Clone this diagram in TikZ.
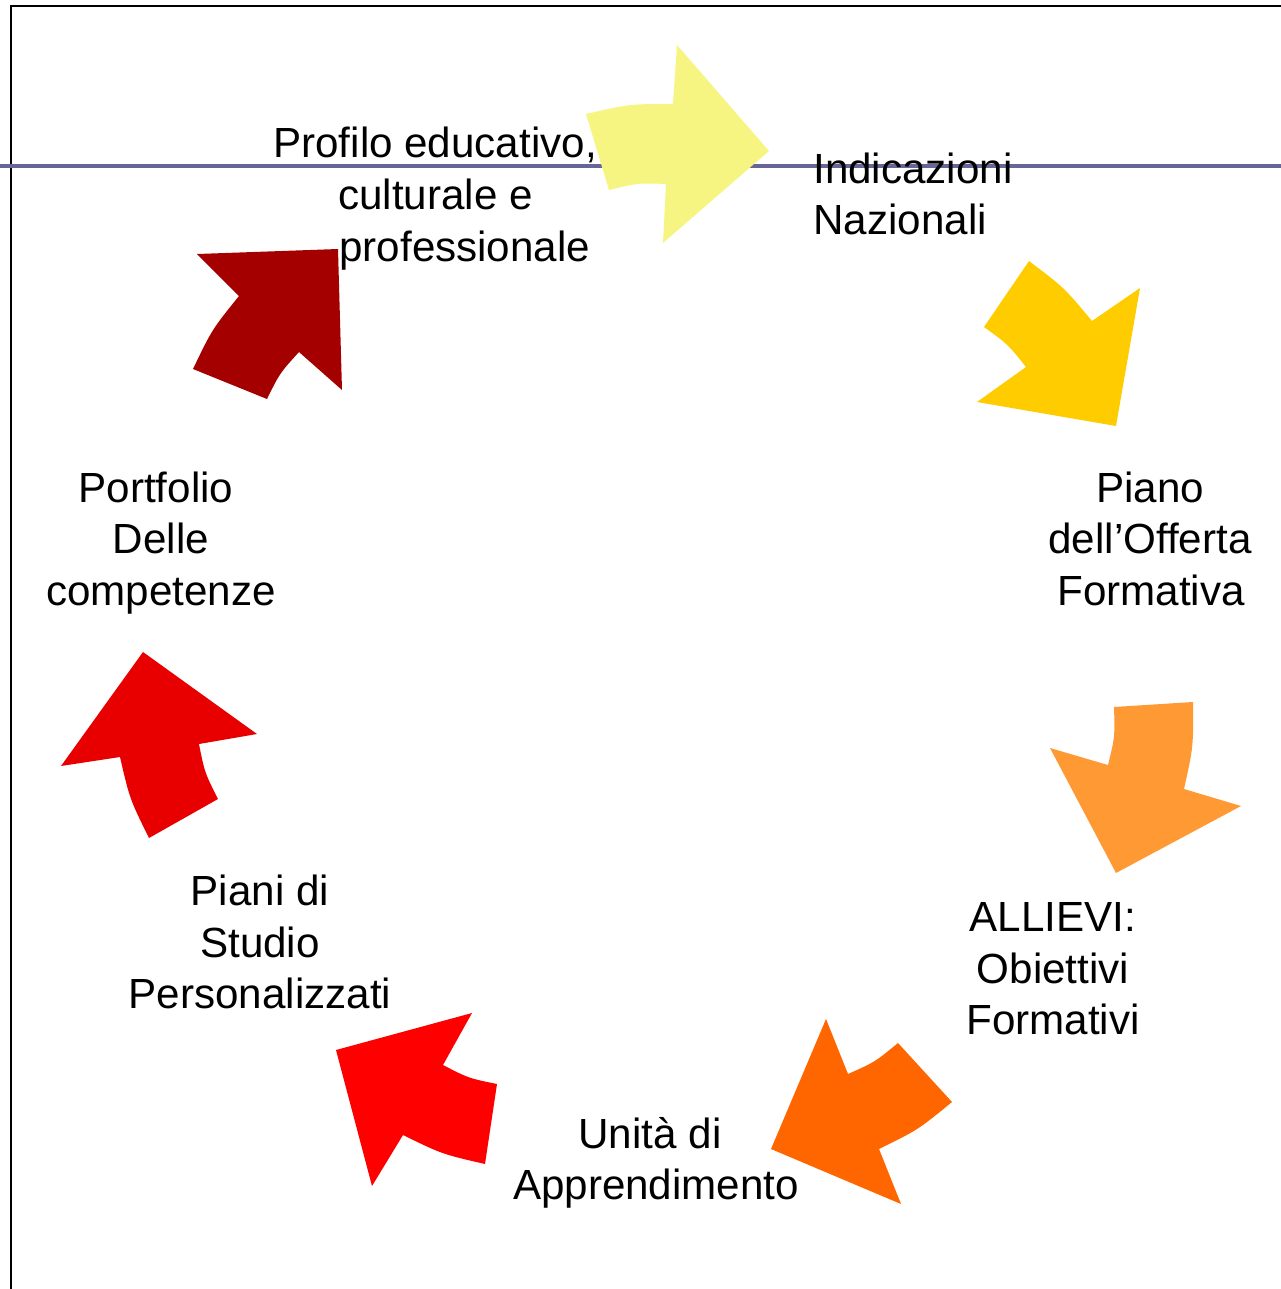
\documentclass[tikz,border=0pt]{standalone}
\usepackage{fontspec}
\setmainfont{Liberation Sans}
\usetikzlibrary{calc}
\definecolor{cYel}{RGB}{247,245,130}
\definecolor{cGold}{RGB}{255,204,0}
\definecolor{cLOr}{RGB}{255,153,51}
\definecolor{cOr}{RGB}{255,102,0}
\definecolor{cRed}{RGB}{255,0,0}
\definecolor{cRedB}{RGB}{232,0,0}
\definecolor{cDRed}{RGB}{165,0,0}
\definecolor{cLine}{RGB}{102,102,153}
\tikzset{
  lbl/.style={font=\fontsize{24}{29.6}\selectfont, inner sep=0pt, text=black},
  lblc/.style={lbl, anchor=base},
  lbll/.style={lbl, anchor=base west},
  frameline/.style={line width=1.4pt, black},
  bluerule/.style={line width=2.1pt, cLine}
}
\newcommand{\outerc}[2]{.. controls ($(#1)!0.5!(#2)!-0.1cm!(C)$) .. (#2)}
\newcommand{\innerc}[2]{.. controls ($(#1)!0.5!(#2)!-0.08cm!(C)$) .. (#2)}
\begin{document}
\begin{tikzpicture}[x=0.02cm,y=-0.02cm]
\useasboundingbox (0,0) rectangle (1281,1289);
\fill[white] (0,0) rectangle (1281,1289);
\coordinate (C) at (650,650);
% frame
\coordinate (fTL) at (11,6);
\coordinate (fTR) at (1281,6);
\coordinate (fBL) at (11,1289);
\draw[frameline] (fTR) -- (fTL) -- (fBL);
% blue rule
\coordinate (bL) at (0,166);
\coordinate (bR) at (1281,166);
\draw[bluerule] (bL) -- (bR);
% yellow arrow
\fill[cYel] (586,114) \outerc{586,114}{673,104} -- (677,45) -- (769,151) -- (663,243) -- (666,184) \innerc{666,184}{609,190} -- cycle;
% gold arrow
\fill[cGold] (1029,261) \outerc{1029,261}{1092,321} -- (1140,288) -- (1116,426) -- (977,402) -- (1026,367) \innerc{1026,367}{984,327} -- cycle;
% light orange arrow
\fill[cLOr] (1193,702) \outerc{1193,702}{1184,789} -- (1241,806) -- (1116,873) -- (1050,748) -- (1108,765) \innerc{1108,765}{1114,707} -- cycle;
% orange arrow
\fill[cOr] (952,1102) \outerc{952,1102}{879,1149} -- (901,1204) -- (771,1149) -- (826,1019) -- (848,1074) \innerc{848,1074}{898,1043} -- cycle;
% red arrow
\fill[cRed] (485,1164) \outerc{485,1164}{403,1135} -- (372,1186) -- (336,1050) -- (472,1013) -- (443,1065) \innerc{443,1065}{497,1084} -- cycle;
% red left arrow
\fill[cRedB] (149,838) \outerc{149,838}{120,757} -- (61,766) -- (143,652) -- (257,734) -- (199,744) \innerc{199,744}{218,799} -- cycle;
% dark red arrow
\fill[cDRed] (193,369) \outerc{193,369}{239,296} -- (197,254) -- (338,249) -- (342,390) -- (299,352) \innerc{299,352}{267,399} -- cycle;
% labels
\node[lbll] (prof1) at (273,157) {Profilo educativo,};
\node[lbll] (prof2) at (338,209) {culturale e};
\node[lbll] (prof3) at (339,261) {professionale};
\node[lbll] (ind1) at (813,183) {Indicazioni};
\node[lbll] (ind2) at (813,234) {Nazionali};
\node[lblc] (pia1) at (1150,502) {Piano};
\node[lblc] (pia2) at (1150,553) {dell’Offerta};
\node[lblc] (pia3) at (1151,605) {Formativa};
\node[lblc] (all1) at (1053,931) {ALLIEVI:};
\node[lblc] (all2) at (1053,983) {Obiettivi};
\node[lblc] (all3) at (1053,1034) {Formativi};
\node[lblc] (uni1) at (650,1148) {Unità di};
\node[lblc] (uni2) at (656,1199) {Apprendimento};
\node[lblc] (psp1) at (260,905) {Piani di};
\node[lblc] (psp2) at (260,957) {Studio};
\node[lblc] (psp3) at (260,1008) {Personalizzati};
\node[lblc] (por1) at (156,502) {Portfolio};
\node[lblc] (por2) at (161,553) {Delle};
\node[lblc] (por3) at (161,605) {competenze};
\end{tikzpicture}
\end{document}
